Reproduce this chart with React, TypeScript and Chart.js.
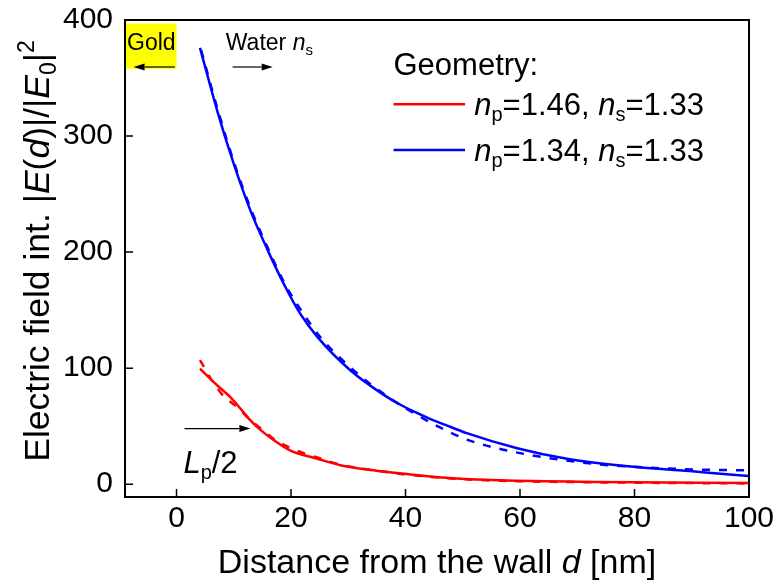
import React, { useEffect, useRef } from "react";
import { Chart, registerables } from "chart.js";

Chart.register(...registerables);

const FONT = '"Liberation Sans", Arial, Helvetica, sans-serif';

// Axes
const xTicks = [0, 20, 40, 60, 80, 100];
const yTicks = [0, 100, 200, 300, 400];
const xMin = -9;
const xMax = 100;
const yMin = -11;
const yMax = 400;

// Blue, n_p=1.34, solid
const blueSolidD = [4.1, 7.1, 10.0, 12.9, 15.8, 18.7, 21.6, 24.6, 30.4, 36.2, 39.1, 42.0, 44.9, 47.8, 50.7, 59.5, 68.2, 79.8, 91.4, 100];
const blueSolidV = [376, 322, 276, 236, 203, 173, 147, 127, 98, 77, 68.5, 61.5, 55, 49.5, 44, 31, 22, 15, 10.6, 7];
// Blue, dashed
const blueDashD = [4.3, 7.3, 10.2, 13.0, 16.0, 19.0, 22.0, 25.0, 30.5, 36.0, 40.0, 45.0, 50.7, 56.0, 62.0, 68.0, 74.0, 80.0, 86.0, 92.0, 100];
const blueDashV = [374, 321, 275, 237, 203, 172, 148, 127.5, 100, 78.5, 65.5, 51.5, 38.5, 31, 25, 20.5, 17, 15, 13.5, 12.5, 12];
// Red, n_p=1.46, solid
const redSolidD = [4.1, 6.5, 8.3, 9.4, 11.2, 12.9, 14.7, 17.0, 19.9, 24.6, 28.6, 34.4, 39.4, 47.0, 56.5, 74.0, 100];
const redSolidV = [99.7, 88, 80, 75, 65, 55, 46.6, 38, 29, 22, 16.4, 12, 9.2, 5.6, 3.4, 2, 1.1];
// Red, dashed
const redDashD = [4.1, 4.8, 6.5, 8.3, 9.4, 11.2, 12.0, 14.7, 17.0, 20.0, 24.6, 28.6, 34.4, 40.0, 48.0, 56.5, 74.0, 100];
const redDashV = [107, 101, 87, 75.5, 71, 64, 59.5, 48, 39, 31, 23, 17, 12, 8.4, 5, 3, 1.6, 0.7];

// Legend
const legendTitle = "Geometry:";
const legendRed = [
  { t: "n", italic: true },
  { t: "p", sub: true },
  { t: "=1.46, " },
  { t: "n", italic: true },
  { t: "s", sub: true },
  { t: "=1.33" },
];
const legendBlue = [
  { t: "n", italic: true },
  { t: "p", sub: true },
  { t: "=1.34, " },
  { t: "n", italic: true },
  { t: "s", sub: true },
  { t: "=1.33" },
];

const xTitle = [{ t: "Distance from the wall " }, { t: "d", italic: true }, { t: " [nm]" }];
const yTitle = [
  { t: "Electric field int. |" },
  { t: "E", italic: true },
  { t: "(" },
  { t: "d", italic: true },
  { t: ")|/|" },
  { t: "E", italic: true },
  { t: "0", sub: true },
  { t: "|" },
  { t: "2", sup: true },
];

type Seg = { t: string; italic?: boolean; sub?: boolean; sup?: boolean };

function segFont(s: Seg, size: number) {
  const sz = s.sub || s.sup ? Math.round(size * 0.66) : size;
  return `${s.italic ? "italic " : ""}${sz}px ${FONT}`;
}

function richWidth(ctx: CanvasRenderingContext2D, segs: Seg[], size: number) {
  let w = 0;
  for (const s of segs) {
    ctx.font = segFont(s, size);
    w += ctx.measureText(s.t).width;
  }
  return w;
}

function drawRich(ctx: CanvasRenderingContext2D, segs: Seg[], x: number, y: number, size: number, align: "left" | "center") {
  const total = richWidth(ctx, segs, size);
  let cx = align === "center" ? x - total / 2 : x;
  ctx.textAlign = "left";
  ctx.textBaseline = "alphabetic";
  for (const s of segs) {
    ctx.font = segFont(s, size);
    const dy = s.sub ? size * 0.2 : s.sup ? -size * 0.42 : 0;
    ctx.fillText(s.t, cx, y + dy);
    cx += ctx.measureText(s.t).width;
  }
}

function arrow(ctx: CanvasRenderingContext2D, x1: number, y1: number, x2: number, y2: number) {
  const dir = Math.sign(x2 - x1);
  const head = 11;
  ctx.save();
  ctx.strokeStyle = "#000";
  ctx.fillStyle = "#000";
  ctx.lineWidth = 1.2;
  ctx.beginPath();
  ctx.moveTo(x1, y1);
  ctx.lineTo(x2 - dir * head, y2);
  ctx.stroke();
  ctx.beginPath();
  ctx.moveTo(x2, y2);
  ctx.lineTo(x2 - dir * head, y2 - 3.5);
  ctx.lineTo(x2 - dir * head, y2 + 3.5);
  ctx.closePath();
  ctx.fill();
  ctx.restore();
}

const decorPlugin = {
  id: "decor",
  afterDraw(chart: any) {
    const ctx: CanvasRenderingContext2D = chart.ctx;
    const xs = chart.scales.x;
    const ys = chart.scales.y;
    const area = chart.chartArea;
    const px = (v: number) => xs.getPixelForValue(v);
    const py = (v: number) => ys.getPixelForValue(v);
    ctx.save();

    // Gold box
    ctx.fillStyle = "#ffff00";
    ctx.fillRect(px(-9), py(397), px(0) - px(-9), py(358) - py(397));
    ctx.fillStyle = "#000";
    ctx.font = `23px ${FONT}`;
    ctx.textAlign = "center";
    ctx.textBaseline = "alphabetic";
    ctx.fillText("Gold", px(-4.4), py(374));
    arrow(ctx, px(-0.3), py(359.5), px(-7.5), py(359.5));

    // Water
    drawRich(ctx, [{ t: "Water " }, { t: "n", italic: true }, { t: "s", sub: true }], px(8.6), py(374), 23, "left");
    arrow(ctx, px(9.8), py(359.5), px(16.8), py(359.5));

    // Lp/2
    drawRich(ctx, [{ t: "L", italic: true }, { t: "p", sub: true }, { t: "/2" }], px(1.2), py(9.5), 31, "left");
    arrow(ctx, px(1.4), py(48), px(12.9), py(48));

    // Legend
    ctx.fillStyle = "#000";
    ctx.font = `31px ${FONT}`;
    ctx.textAlign = "left";
    ctx.fillText(legendTitle, px(37.9), py(352.6));
    ctx.lineWidth = 2.5;
    ctx.strokeStyle = "#ff0000";
    ctx.beginPath();
    ctx.moveTo(px(37.9), py(327.5));
    ctx.lineTo(px(50.4), py(327.5));
    ctx.stroke();
    ctx.strokeStyle = "#0000ff";
    ctx.beginPath();
    ctx.moveTo(px(37.9), py(288));
    ctx.lineTo(px(50.4), py(288));
    ctx.stroke();
    ctx.fillStyle = "#000";
    drawRich(ctx, legendRed, px(52), py(318), 31, "left");
    drawRich(ctx, legendBlue, px(52), py(278.4), 31, "left");

    // Frame
    ctx.strokeStyle = "#000";
    ctx.lineWidth = 2;
    ctx.strokeRect(area.left, area.top, area.right - area.left, area.bottom - area.top);

    // Inward ticks
    ctx.lineWidth = 1.5;
    ctx.beginPath();
    for (const v of xTicks) {
      const x = px(v);
      ctx.moveTo(x, area.bottom);
      ctx.lineTo(x, area.bottom - 8);
    }
    for (const v of yTicks) {
      const y = py(v);
      ctx.moveTo(area.left, y);
      ctx.lineTo(area.left + 8, y);
    }
    ctx.stroke();

    // Axis titles
    ctx.fillStyle = "#000";
    drawRich(ctx, xTitle as Seg[], (area.left + area.right) / 2, 573, 34, "center");
    ctx.save();
    ctx.translate(49, 251);
    ctx.rotate(-Math.PI / 2);
    drawRich(ctx, yTitle as Seg[], 0, 0, 35.5, "center");
    ctx.restore();

    ctx.restore();
  },
};

function toPts(d: number[], v: number[]) {
  return d.map((x, i) => ({ x, y: v[i] }));
}

export default function App() {
  const ref = useRef<HTMLCanvasElement | null>(null);
  useEffect(() => {
    if (!ref.current) return;
    const common = { pointRadius: 0, borderWidth: 2.5, cubicInterpolationMode: "monotone" as const, fill: false };
    const chart = new Chart(ref.current, {
      type: "line",
      data: {
        datasets: [
          { ...common, label: "blue dashed", data: toPts(blueDashD, blueDashV), borderColor: "#0000ff", borderDash: [8, 9] },
          { ...common, label: "red dashed", data: toPts(redDashD, redDashV), borderColor: "#ff0000", borderDash: [8, 9] },
          { ...common, label: "n_p=1.34, n_s=1.33", data: toPts(blueSolidD, blueSolidV), borderColor: "#0000ff" },
          { ...common, label: "n_p=1.46, n_s=1.33", data: toPts(redSolidD, redSolidV), borderColor: "#ff0000" },
        ],
      },
      options: {
        responsive: false,
        maintainAspectRatio: false,
        animation: false,
        events: [],
        layout: { padding: { top: 20, right: 34, left: 0, bottom: 0 } },
        plugins: { legend: { display: false }, tooltip: { enabled: false }, title: { display: false } },
        scales: {
          x: {
            type: "linear",
            min: xMin,
            max: xMax,
            afterBuildTicks: (s: any) => {
              s.ticks = xTicks.map((value) => ({ value }));
            },
            afterFit: (s: any) => {
              s.height = 85;
              s.paddingLeft = 0;
              s.paddingRight = 0;
            },
            grid: { display: false, drawTicks: false },
            border: { display: false },
            ticks: { font: { family: FONT, size: 30 }, color: "#000", padding: 4, maxRotation: 0, autoSkip: false },
          },
          y: {
            type: "linear",
            min: yMin,
            max: yMax,
            afterBuildTicks: (s: any) => {
              s.ticks = yTicks.map((value) => ({ value }));
            },
            afterFit: (s: any) => {
              s.width = 125;
              s.paddingTop = 0;
              s.paddingBottom = 0;
            },
            grid: { display: false, drawTicks: false },
            border: { display: false },
            ticks: { font: { family: FONT, size: 30 }, color: "#000", padding: 12, autoSkip: false },
          },
        },
      },
      plugins: [decorPlugin],
    });
    return () => chart.destroy();
  }, []);
  return (
    <div style={{ position: "fixed", left: 0, top: 0, width: 783, height: 582, background: "#fff" }}>
      <canvas ref={ref} width={783} height={582} />
    </div>
  );
}
